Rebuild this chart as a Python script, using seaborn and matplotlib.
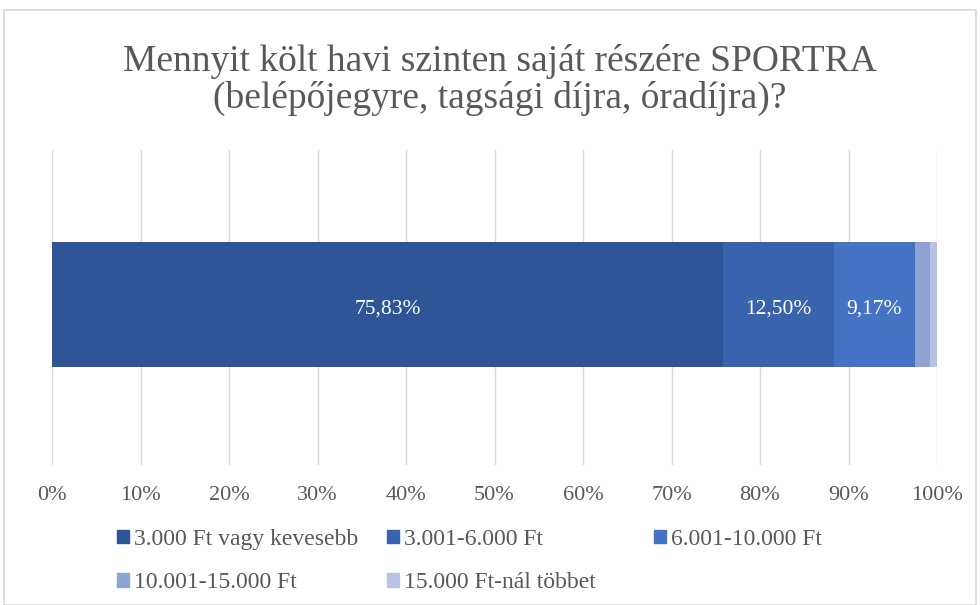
import numpy as np
import pandas as pd
import seaborn as sns
import matplotlib.pyplot as plt
from matplotlib.patches import Patch, Rectangle

# adatok
kategoriak = ['3.000 Ft vagy kevesebb', '3.001-6.000 Ft', '6.001-10.000 Ft',
              '10.001-15.000 Ft', '15.000 Ft-nál többet']
ertekek = [75.83, 12.50, 9.17, 1.67, 0.83]
szinek = ['#2F5597', '#3A63AD', '#4472C4', '#8FA3D3', '#B7C2E4']
cimke = ['75,83%', '12,50%', '9,17%', '', '']

sns.set_style('white')
plt.rcParams['font.family'] = ['Liberation Serif', 'DejaVu Serif']
szurke = '#595959'

fig = plt.figure(figsize=(9.8, 6.05), dpi=100)
ax = fig.add_axes([52 / 980, 1 - 465 / 605, (937 - 52) / 980, (465 - 150) / 605])

# keret
fig.patches.append(Rectangle((4 / 980, 0), 972 / 980, 595 / 605, transform=fig.transFigure,
                             fill=False, edgecolor='#D9D9D9', linewidth=1.2))

df = pd.DataFrame({'kat': kategoriak, 'ertek': ertekek})
df['kum'] = df['ertek'].cumsum()
df['sor'] = ''

# egymásra rakott sáv: a leghosszabbtól a legrövidebbig
for i in range(len(df) - 1, -1, -1):
    sns.barplot(data=df.iloc[[i]], x='kum', y='sor', orient='h', color=szinek[i],
                width=0.395, saturation=1, linewidth=0, ax=ax, zorder=2)

for i, row in df.iterrows():
    if cimke[i]:
        ax.text(row['kum'] - row['ertek'] / 2, 0.015, cimke[i], ha='center', va='center',
                color='white', fontsize=15.5, zorder=3)

ax.set_xlim(0, 100)
ax.set_ylim(0.51, -0.49)
ax.set_xticks(np.arange(0, 101, 10))
ax.set_xticklabels([f'{t}%' for t in range(0, 101, 10)], color=szurke, fontsize=16)
ax.set_yticks([])
ax.set_xlabel('')
ax.set_ylabel('')
ax.grid(axis='x', color='#D9D9D9', linewidth=1, zorder=0)
ax.set_axisbelow(True)
for s in ax.spines.values():
    s.set_visible(False)
ax.tick_params(axis='x', length=0, pad=15)

fig.text(0.51, 1 - 80 / 605, 'Mennyit költ havi szinten saját részére SPORTRA\n(belépőjegyre, tagsági díjra, óradíjra)?',
         ha='center', va='center', fontsize=27, color=szurke, linespacing=1.1)

# jelmagyarázat: soronként, három oszlopban
oszlop_x = [112, 382, 649]
for k, x0 in enumerate(oszlop_x):
    idx = [j for j in range(len(kategoriak)) if j % 3 == k]
    kezek = [Patch(facecolor=szinek[j], edgecolor=szinek[j]) for j in idx]
    fig.legend(kezek, [kategoriak[j] for j in idx], loc='upper left',
               bbox_to_anchor=(x0 / 980, 1 - 524 / 605), ncol=1, frameon=False,
               fontsize=17, labelcolor=szurke, handlelength=0.5, handleheight=0.5,
               handletextpad=0.25, labelspacing=0.95, borderaxespad=0, borderpad=0.2)

plt.savefig('out.png', dpi=100)
